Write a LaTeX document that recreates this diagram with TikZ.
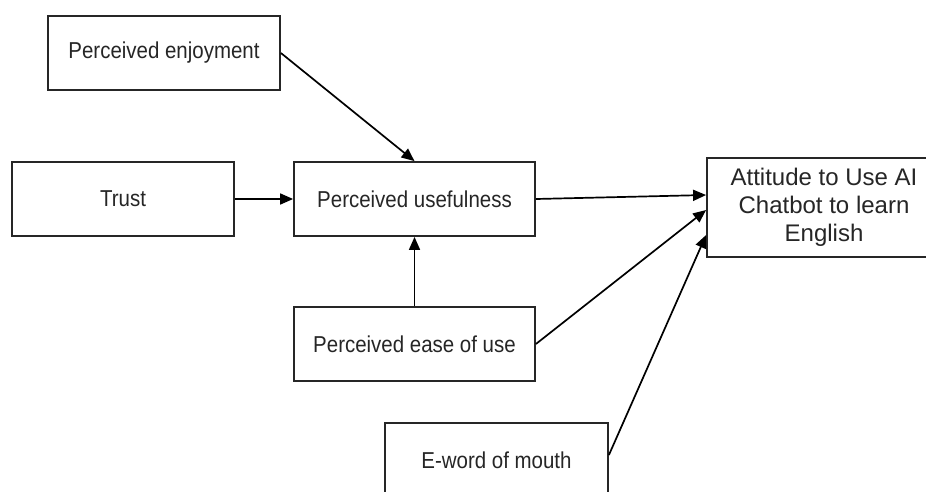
\documentclass[tikz,border=0pt]{standalone}
\usepackage{graphicx}
\usepackage{fontspec}
\setmainfont{Liberation Sans}
\usetikzlibrary{arrows.meta}
\newcommand{\nar}[1]{\scalebox{0.89}[1]{#1}}
\tikzset{
  box/.style={draw=black!85, line width=1.8pt, minimum height=74pt, inner sep=0pt,
    font=\fontsize{23pt}{27pt}\selectfont, text=black!85},
  conn/.style={draw=black, line width=1.7pt, -{Triangle[length=13pt,width=11pt]}}
}
\begin{document}
\begin{tikzpicture}[x=1pt,y=-1pt]
\useasboundingbox[fill=white] (0,0) rectangle (926,491);
\clip (0,0) rectangle (926,491);
\node[box, minimum width=232pt] (pe) at (164,53) {\nar{Perceived enjoyment}};
\node[box, minimum width=222pt] (tr) at (123,199) {\nar{Trust}};
\node[box, minimum width=241pt] (pu) at (414.5,199) {\nar{Perceived usefulness}};
\node[box, minimum width=241pt] (peou) at (414.5,344) {\nar{Perceived ease of use}};
\node[box, minimum width=223pt] (ewm) at (496.5,460) {\nar{E-word of mouth}};
\node[box, minimum width=234pt, minimum height=99pt, align=center,
  font=\fontsize{24pt}{28pt}\selectfont] (att) at (824,207.5)
  {Attitude to Use AI\\Chatbot to learn\\English};
\draw[conn] (pe.east) -- (pu.north);
\draw[conn] (tr.east) -- (pu.west);
\draw[conn] (peou.north) -- (pu.south);
\draw[conn] (pu.east) -- ([yshift=12.5pt]att.west);
\draw[conn] (peou.east) -- ([yshift=-2.5pt]att.west);
\draw[conn] ([yshift=5pt]ewm.east) -- ([yshift=-27.5pt]att.west);
\end{tikzpicture}
\end{document}
